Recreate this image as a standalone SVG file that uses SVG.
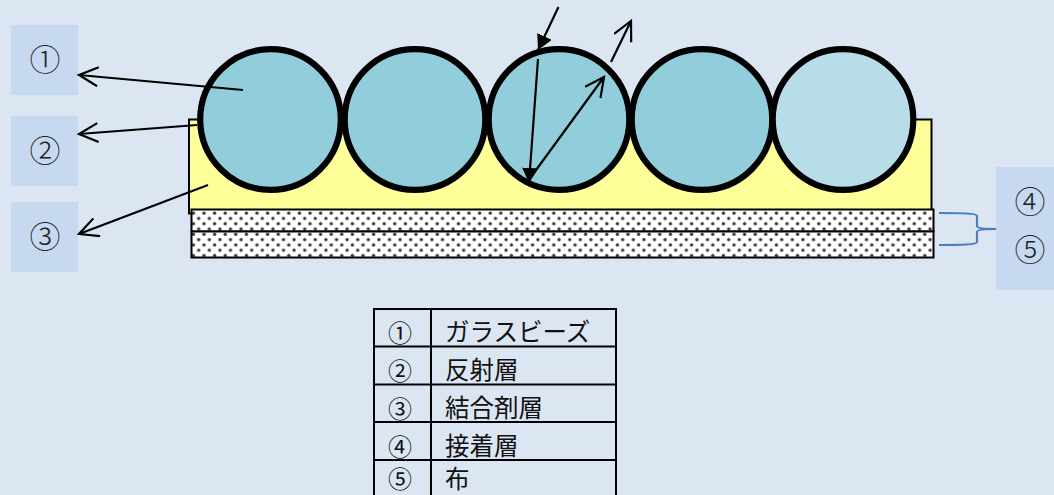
<svg xmlns="http://www.w3.org/2000/svg" width="1054" height="495" viewBox="0 0 1054 495">
<defs>
<style>
.lbl{fill:#c6d9f1}
.big{font-family:"Noto Sans CJK JP",sans-serif;font-size:31px;font-weight:300;fill:#222;text-anchor:middle}
.tx{font-family:"Noto Sans CJK JP",sans-serif;font-size:24.500px;fill:#111}
.num{font-family:"Noto Sans CJK JP",sans-serif;font-size:24px;fill:#111;text-anchor:middle}
.bead{fill:#92cddc;stroke:#000;stroke-width:6.200}
.ln{fill:none;stroke:#000;stroke-width:2.200}
.cell{fill:url(#dots);stroke:#000;stroke-width:2}
.tb{fill:none;stroke:#000;stroke-width:2}
.br{fill:none;stroke:#4a7ebb;stroke-width:2.200}
</style>
<pattern id="dots" x="191" y="210" width="10.6" height="10.6" patternUnits="userSpaceOnUse">
<rect width="10.6" height="10.6" fill="#fff"/>
<circle cx="2.400" cy="3.200" r="1.700" fill="#3a3a3a"/>
<circle cx="7.700" cy="8.500" r="1.700" fill="#3a3a3a"/>
</pattern>
<marker id="open" markerUnits="userSpaceOnUse" markerWidth="24" markerHeight="24" refX="20" refY="10" orient="auto">
<path d="M1,0.500 L20,10 L1,19.500" fill="none" stroke="#000" stroke-width="2.200"/>
</marker>
<marker id="solid" markerUnits="userSpaceOnUse" markerWidth="18" markerHeight="18" refX="15" refY="8" orient="auto">
<path d="M0,0 L15,8 L0,16 Z" fill="#000"/>
</marker>
</defs>
<rect width="1054" height="495" fill="#dce6f2"/>
<g id="layer-binder"><rect x="189" y="119.500" width="742.500" height="94" fill="#ffff99" stroke="#000" stroke-width="2"/></g>
<g id="layer-adhesive"><rect class="cell" x="191.500" y="209.500" width="742" height="22"/></g>
<g id="layer-cloth"><rect class="cell" x="191.500" y="231.500" width="742" height="26"/></g>
<g id="bead-1"><circle class="bead" cx="270.500" cy="119.500" r="70.300"/></g>
<g id="bead-2"><circle class="bead" cx="415" cy="119.500" r="70.300"/></g>
<g id="bead-3"><circle class="bead" cx="559" cy="119.500" r="70.300"/></g>
<g id="bead-4"><circle class="bead" cx="702" cy="119.500" r="70.300"/></g>
<g id="bead-5"><circle class="bead" cx="843" cy="119.500" r="70.300" style="fill:#b7dde8"/></g>
<g id="label-1"><rect class="lbl" x="11" y="25" width="67" height="70"/><text class="big" x="45" y="71">①</text></g>
<g id="label-2"><rect class="lbl" x="11" y="116" width="67" height="70"/><text class="big" x="45" y="162">②</text></g>
<g id="label-3"><rect class="lbl" x="11" y="202" width="67" height="70"/><text class="big" x="45" y="248">③</text></g>
<g id="label-45"><rect class="lbl" x="996" y="167" width="58" height="123"/><text class="big" x="1030" y="213">④</text><text class="big" x="1030" y="261">⑤</text></g>
<g id="connectors">
<path class="ln" marker-end="url(#open)" d="M243,90 L79,75"/>
<path class="ln" marker-end="url(#open)" d="M197,125 L79,134"/>
<path class="ln" marker-end="url(#open)" d="M208,185 L79,234"/>
<path class="ln" marker-end="url(#solid)" d="M558.500,7 L538,50"/>
<path class="ln" marker-end="url(#solid)" d="M538,59 L529,183"/>
<path class="ln" marker-end="url(#open)" d="M528,181 L604,77"/>
<path class="ln" marker-end="url(#open)" d="M611,62 L631,21"/>
<path class="br" d="M939,213 C960,213 977,213.500 977,216 L977,226 Q977,229 996,229 Q977,229 977,232 L977,242 C977,244.500 960,245 939,245"/>
</g>
<g id="table">
<rect class="tb" x="374" y="309" width="242" height="190"/>
<path class="tb" d="M431,309 V499 M374,346.500 H616 M374,384.500 H616 M374,422 H616 M374,460 H616"/>
<text class="num" x="400" y="342">①</text><text class="tx" x="445" y="341">ガラスビーズ</text>
<text class="num" x="400" y="380">②</text><text class="tx" x="445" y="379">反射層</text>
<text class="num" x="400" y="418">③</text><text class="tx" x="445" y="417">結合剤層</text>
<text class="num" x="400" y="456">④</text><text class="tx" x="445" y="455">接着層</text>
<text class="num" x="400" y="488">⑤</text><text class="tx" x="445" y="488">布</text>
</g>
</svg>
